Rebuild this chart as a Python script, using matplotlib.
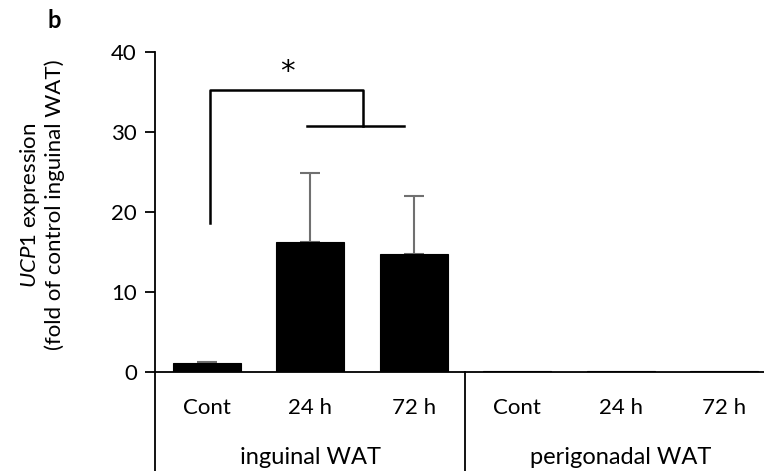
import matplotlib
matplotlib.use("Agg")
import matplotlib.pyplot as plt
from matplotlib.lines import Line2D

plt.rcParams['font.family'] = ['Lato', 'DejaVu Sans']
plt.rcParams['mathtext.fontset'] = 'custom'
plt.rcParams['mathtext.it'] = 'Lato:italic'
plt.rcParams['mathtext.rm'] = 'Lato'

categories = ["Cont", "24 h", "72 h", "Cont", "24 h", "72 h"]
groups = ["inguinal WAT", "perigonadal WAT"]
values = [1.1, 16.3, 14.8, 0.12, 0.12, 0.12]
errors = [0.2, 8.6, 7.2, 0.0, 0.0, 0.0]
yticks = [0, 10, 20, 30, 40]

fig = plt.figure(figsize=(7.64, 4.71), dpi=100)
ax = fig.add_axes([155/764, (471-372)/471, (764-155)/764, 320/471])

x = list(range(len(categories)))
ax.bar(x, values, width=0.66, color='black', edgecolor='black', linewidth=0.8, zorder=2)
ax.errorbar(x[:3], values[:3], yerr=[[0, 0, 0], errors[:3]], fmt='none',
            ecolor='#707070', elinewidth=1.5, capsize=7, capthick=1.5, zorder=1)

ax.set_ylim(0, 40)
ax.set_xlim(-0.5, (764-155)/103.5 - 0.5)
ax.set_yticks(yticks)
ax.set_yticklabels([str(t) for t in yticks], fontsize=16)
ax.tick_params(axis='y', length=7, width=1.3, pad=6)
ax.set_xticks(x)
ax.set_xticklabels(categories, fontsize=16)
ax.tick_params(axis='x', length=0, pad=19)
for s in ['top', 'right']:
    ax.spines[s].set_visible(False)
ax.spines['left'].set_linewidth(1.3)
ax.spines['bottom'].set_linewidth(1.3)

tr = ax.get_xaxis_transform()
ybot = (372-471)/320
ax.add_line(Line2D([-0.5, -0.5], [0, ybot], transform=tr, color='black', lw=1.3, clip_on=False))
ax.add_line(Line2D([2.5, 2.5], [0, ybot], transform=tr, color='black', lw=1.3, clip_on=False))
ax.text(1, (372-458)/320, groups[0], transform=tr, ha='center', va='center', fontsize=17)
ax.text(4, (372-458)/320, groups[1], transform=tr, ha='center', va='center', fontsize=17)

# significance bracket
ax.plot([0.03, 0.03, 1.51, 1.51], [18.6, 35.25, 35.25, 30.8], color='black', lw=1.8, clip_on=False)
ax.plot([0.97, 1.91], [30.8, 30.8], color='black', lw=1.8, clip_on=False)
ax.text(0.78, 37.5, '*', ha='center', va='center', fontsize=21, family='DejaVu Sans')

fig.text(30/764, 1 - 205/471, r'$\it{UCP1}$ expression', rotation=90, ha='center', va='center', fontsize=16)
fig.text(55/764, 1 - 205/471, '(fold of control inguinal WAT)', rotation=90, ha='center', va='center', fontsize=16)
fig.text(54/764, 1 - 20/471, 'b', fontweight='bold', ha='center', va='center', fontsize=17)

fig.savefig('out.png', dpi=100)
